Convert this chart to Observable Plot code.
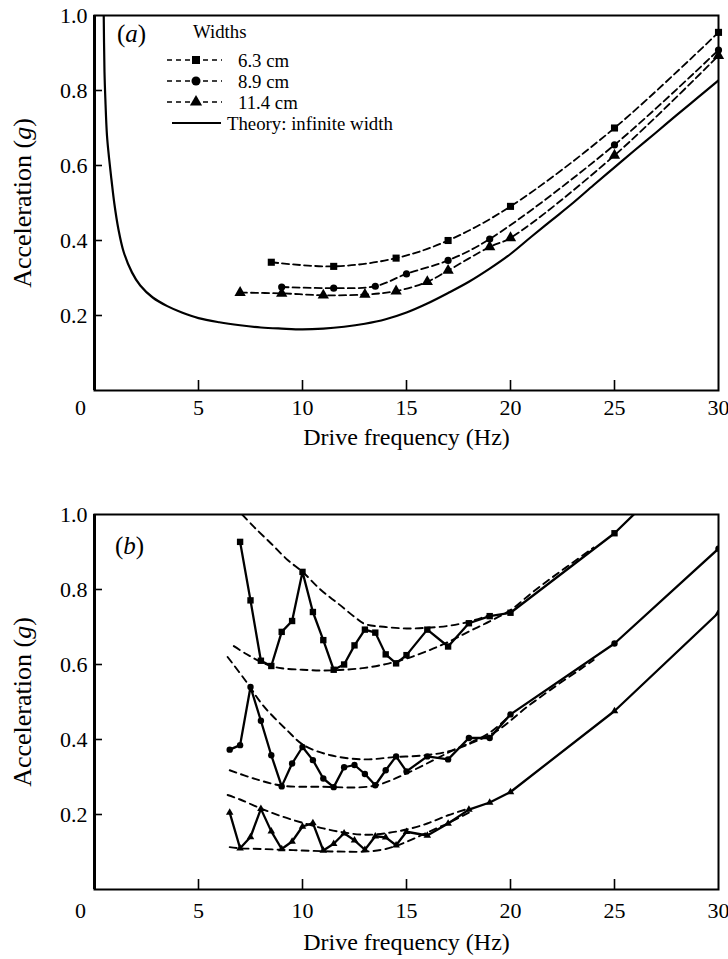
<!DOCTYPE html>
<html><head><meta charset="utf-8">
<script src="https://cdn.jsdelivr.net/npm/d3@7"></script>
<script src="https://cdn.jsdelivr.net/npm/@observablehq/plot@0.6"></script>
<style>
body{margin:0;background:#fff;font-family:"Liberation Serif","DejaVu Serif","Times New Roman",serif;}
#wrap{position:relative;width:728px;height:959px;overflow:hidden;background:#fff;}
#wrap > div{position:absolute;left:0;}
.ov{position:absolute;left:0;top:0;pointer-events:none;}
svg text{font-family:"Liberation Serif","DejaVu Serif","Times New Roman",serif;}
</style></head><body><div id="wrap"></div>
<script>
// ---------- shared axes ----------
const xTicks = [5, 10, 15, 20, 25, 30];
const yTicks = [0.2, 0.4, 0.6, 0.8, 1.0];

// ---------- panel (a) ----------
const theoryF = [0.44, 0.48, 0.52, 0.6, 0.7, 0.82, 0.95, 1.15, 1.4, 1.8, 2.2, 2.8, 3.5, 4.2, 5, 6, 7, 8, 9, 10, 11, 12, 13, 14, 15, 16, 17, 18, 19, 20, 21, 22, 23, 24, 25, 26, 27, 28, 29, 30];
const theoryA = [1.02, 0.85, 0.78, 0.68, 0.62, 0.56, 0.5, 0.43, 0.37, 0.315, 0.28, 0.248, 0.225, 0.208, 0.193, 0.182, 0.174, 0.168, 0.165, 0.163, 0.165, 0.17, 0.178, 0.19, 0.208, 0.232, 0.26, 0.29, 0.325, 0.364, 0.41, 0.455, 0.5, 0.548, 0.595, 0.642, 0.688, 0.735, 0.781, 0.827];

const a63F = [8.5, 11.5, 14.5, 17, 20, 25, 30];
const a63A = [0.342, 0.331, 0.353, 0.40, 0.491, 0.70, 0.955];
const a89F = [9, 11.5, 13.5, 15, 17, 19, 25, 30];
const a89A = [0.276, 0.273, 0.278, 0.311, 0.347, 0.404, 0.655, 0.908];
const a114F = [7, 9, 11, 13, 14.5, 16, 17, 19, 20, 25, 30];
const a114A = [0.261, 0.259, 0.254, 0.256, 0.265, 0.29, 0.32, 0.383, 0.407, 0.627, 0.893];

// ---------- panel (b) ----------
const bSqF = [7, 7.5, 8, 8.5, 9, 9.5, 10, 10.5, 11, 11.5, 12, 12.5, 13, 13.5, 14, 14.5, 15, 16, 17, 18, 19, 20, 25, 30];
const bSqA = [0.927, 0.771, 0.61, 0.596, 0.687, 0.716, 0.847, 0.74, 0.665, 0.586, 0.6, 0.651, 0.693, 0.685, 0.627, 0.603, 0.625, 0.693, 0.648, 0.71, 0.729, 0.738, 0.95, 1.22];
const bCiF = [6.5, 7, 7.5, 8, 8.5, 9, 9.5, 10, 10.5, 11, 11.5, 12, 12.5, 13, 13.5, 14, 14.5, 15, 16, 17, 18, 19, 20, 25, 30];
const bCiA = [0.373, 0.385, 0.54, 0.45, 0.358, 0.275, 0.336, 0.38, 0.345, 0.296, 0.273, 0.326, 0.332, 0.308, 0.278, 0.318, 0.355, 0.315, 0.355, 0.347, 0.404, 0.404, 0.467, 0.656, 0.909];
const bTrF = [6.5, 7, 7.5, 8, 8.5, 9, 9.5, 10, 10.5, 11, 11.5, 12, 12.5, 13, 13.5, 14, 14.5, 15, 16, 17, 18, 19, 20, 25, 30];
const bTrA = [0.205, 0.11, 0.14, 0.215, 0.155, 0.108, 0.128, 0.168, 0.177, 0.104, 0.122, 0.15, 0.131, 0.106, 0.142, 0.139, 0.118, 0.154, 0.144, 0.176, 0.213, 0.232, 0.26, 0.476, 0.738];

// dashed envelopes (upper / lower) for each width
const envSqUpF = [7.1, 7.7, 8.5, 9.3, 10, 10.9, 11.7, 12.5, 13, 14, 15, 16, 17, 18, 19];
const envSqUpA = [1.0, 0.965, 0.922, 0.878, 0.847, 0.798, 0.763, 0.727, 0.708, 0.70, 0.696, 0.698, 0.703, 0.714, 0.732];
const envSqLoF = [6.7, 7.3, 8, 8.5, 9, 10, 11, 12, 13, 14, 15, 16, 17, 18, 19, 20, 21, 22, 23, 24];
const envSqLoA = [0.649, 0.628, 0.607, 0.596, 0.59, 0.586, 0.584, 0.586, 0.591, 0.601, 0.616, 0.636, 0.66, 0.688, 0.715, 0.745, 0.79, 0.832, 0.872, 0.912];
const envCiUpF = [6.4, 7.3, 8.1, 9.25, 10.06, 11.35, 12.95, 14.4, 15.9, 17, 18, 19, 19.8];
const envCiUpA = [0.62, 0.554, 0.491, 0.425, 0.385, 0.358, 0.347, 0.353, 0.358, 0.368, 0.39, 0.418, 0.455];
const envCiLoF = [6.5, 7.66, 9, 10.9, 13.4, 14.9, 16.3, 17.2, 18.2, 19.35, 20.8, 22.24, 23.4, 24];
const envCiLoA = [0.318, 0.296, 0.277, 0.274, 0.276, 0.307, 0.345, 0.37, 0.392, 0.423, 0.487, 0.545, 0.589, 0.612];
const envTrUpF = [6.4, 7, 8, 9, 10, 11, 12, 13, 14, 15, 16, 17, 18];
const envTrUpA = [0.252, 0.24, 0.216, 0.195, 0.178, 0.163, 0.152, 0.146, 0.15, 0.16, 0.176, 0.198, 0.216];
const envTrLoF = [6.5, 7, 8, 9, 10, 11, 12, 13, 14, 15, 16, 17, 18];
const envTrLoA = [0.113, 0.11, 0.108, 0.106, 0.104, 0.102, 0.101, 0.101, 0.108, 0.127, 0.152, 0.177, 0.205];

// legend entries
const legendLabels = ["6.3 cm", "8.9 cm", "11.4 cm"];
const theoryLabel = "Theory: infinite width";

const zip = (F, A) => F.map((f, i) => ({f, a: A[i]}));

const FONT = '"Liberation Serif","DejaVu Serif","Times New Roman",serif';
const W = 728, ML = 94, MR = 10;

function panel({height, marginTop, marginBottom, marks, tickPad, zeroDy, xlabelDy, ylabelSize}) {
  const plotW = W - ML - MR, plotH = height - marginTop - marginBottom;
  return Plot.plot({
    width: W, height, marginLeft: ML, marginRight: MR, marginTop, marginBottom,
    x: {domain: [0, 30]},
    y: {domain: [0, 1]},
    style: {fontFamily: FONT, color: "#000", background: "#fff", overflow: "visible"},
    marks: [
      ...marks,
      Plot.frame({stroke: "#000", strokeWidth: 2}),
      Plot.ruleX([0], {stroke: "#000", strokeWidth: 3}),
      Plot.tickX(xTicks.slice(0, -1), {x: d => d, insetTop: plotH - 10, stroke: "#000", strokeWidth: 1.6}),
      Plot.tickY(yTicks.slice(0, -1), {y: d => d, insetRight: plotW - 8, stroke: "#000", strokeWidth: 1.6}),
      Plot.axisX(xTicks, {tickSize: 0, tickPadding: tickPad, label: null, fontSize: 22}),
      Plot.text([0], {x: d => d, y: d => d, text: () => "0", dx: -14, dy: zeroDy, fontSize: 22}),
      Plot.axisY(yTicks, {tickSize: 0, tickPadding: 7, tickFormat: d3.format(".1f"), label: null, fontSize: 22}),
      Plot.text(["Drive frequency (Hz)"], {frameAnchor: "bottom", lineAnchor: "middle", textAnchor: "middle", text: d => d, dy: xlabelDy, fontSize: 24}),
      Plot.text(["Acceleration (g)"], {frameAnchor: "left", lineAnchor: "middle", textAnchor: "middle", text: d => d, rotate: -90, dx: -72, fontSize: ylabelSize})
    ]
  });
}

const dash = {strokeDasharray: "7,4", strokeWidth: 1.8, stroke: "#000"};

const plotA = panel({
  height: 480, marginTop: 15, marginBottom: 90, tickPad: 9, zeroDy: 17, xlabelDy: 47, ylabelSize: 26,
  marks: [
    Plot.line(zip(theoryF, theoryA), {x: "f", y: "a", curve: "catmull-rom", stroke: "#000", strokeWidth: 2.2, clip: true}),
    Plot.line(zip(a63F, a63A), {x: "f", y: "a", curve: "catmull-rom", ...dash}),
    Plot.line(zip(a89F, a89A), {x: "f", y: "a", curve: "catmull-rom", ...dash}),
    Plot.line(zip(a114F, a114A), {x: "f", y: "a", curve: "catmull-rom", ...dash}),
    Plot.dot(zip(a63F, a63A), {x: "f", y: "a", symbol: "square", r: 4, fill: "#000", stroke: "none"}),
    Plot.dot(zip(a89F, a89A), {x: "f", y: "a", symbol: "circle", r: 3.6, fill: "#000", stroke: "none"}),
    Plot.dot(zip(a114F, a114A), {x: "f", y: "a", symbol: "triangle", r: 4.2, fill: "#000", stroke: "none"})
  ]
});

const dashB = {strokeDasharray: "7,5", strokeWidth: 1.9, stroke: "#000", curve: "catmull-rom", clip: true};
const solidB = {stroke: "#000", strokeWidth: 2.3, clip: true};

const plotB = panel({
  height: 480, marginTop: 34, marginBottom: 71, tickPad: 13, zeroDy: 21, xlabelDy: 53, ylabelSize: 26,
  marks: [
    Plot.line(zip(envSqUpF, envSqUpA), {x: "f", y: "a", ...dashB}),
    Plot.line(zip(envSqLoF, envSqLoA), {x: "f", y: "a", ...dashB}),
    Plot.line(zip(envCiUpF, envCiUpA), {x: "f", y: "a", ...dashB}),
    Plot.line(zip(envCiLoF, envCiLoA), {x: "f", y: "a", ...dashB}),
    Plot.line(zip(envTrUpF, envTrUpA), {x: "f", y: "a", ...dashB}),
    Plot.line(zip(envTrLoF, envTrLoA), {x: "f", y: "a", ...dashB}),
    Plot.line(zip(bSqF, bSqA), {x: "f", y: "a", ...solidB}),
    Plot.line(zip(bCiF, bCiA), {x: "f", y: "a", ...solidB}),
    Plot.line(zip(bTrF, bTrA), {x: "f", y: "a", ...solidB}),
    Plot.dot(zip(bSqF, bSqA), {x: "f", y: "a", symbol: "square", r: 3.6, fill: "#000", stroke: "none", clip: true}),
    Plot.dot(zip(bCiF, bCiA), {x: "f", y: "a", symbol: "circle", r: 3.2, fill: "#000", stroke: "none", clip: true}),
    Plot.dot(zip(bTrF, bTrA), {x: "f", y: "a", symbol: "triangle", r: 2.8, fill: "#000", stroke: "none", clip: true})
  ]
});

function italicG(svg) {
  d3.select(svg).selectAll("text").each(function() {
    if (this.textContent === "Acceleration (g)") {
      this.textContent = "";
      const t = d3.select(this);
      t.append("tspan").text("Acceleration (");
      t.append("tspan").attr("font-style", "italic").text("g");
      t.append("tspan").text(")");
    }
  });
}
italicG(plotA); italicG(plotB);

const wrap = document.getElementById("wrap");
const dA = document.createElement("div"); dA.style.top = "0px"; dA.appendChild(plotA); wrap.appendChild(dA);
const dB = document.createElement("div"); dB.style.top = "480px"; dB.appendChild(plotB); wrap.appendChild(dB);

// ---------- overlay: panel tags and legend ----------
const symbols = [d3.symbolSquare, d3.symbolCircle, d3.symbolTriangle];
const rowY = [60, 81, 102];
const LFS = 18.8;
const ov = d3.select(wrap).append("svg").attr("class", "ov").attr("width", 728).attr("height", 959)
  .style("font-family", FONT);
function tag(x, y, letter) {
  const t = ov.append("text").attr("x", x).attr("y", y).attr("font-size", 25);
  t.append("tspan").text("(");
  t.append("tspan").attr("font-style", "italic").text(letter);
  t.append("tspan").text(")");
}
tag(117, 42, "a");
tag(115, 554, "b");
ov.append("text").attr("x", 193).attr("y", 38).attr("font-size", LFS).text("Widths");
legendLabels.forEach((label, i) => {
  const y = rowY[i];
  ov.append("line").attr("x1", 167).attr("x2", 222).attr("y1", y).attr("y2", y)
    .attr("stroke", "#000").attr("stroke-width", 1.6).attr("stroke-dasharray", "5,4");
  ov.append("path").attr("d", d3.symbol(symbols[i], 64)()).attr("transform", `translate(196,${y})`).attr("fill", "#000");
  ov.append("text").attr("x", 238).attr("y", y + 6.5).attr("font-size", LFS).text(label);
});
ov.append("line").attr("x1", 172).attr("x2", 221).attr("y1", 123).attr("y2", 123).attr("stroke", "#000").attr("stroke-width", 2);
ov.append("text").attr("x", 227).attr("y", 129.5).attr("font-size", LFS).text(theoryLabel);
</script></body></html>
